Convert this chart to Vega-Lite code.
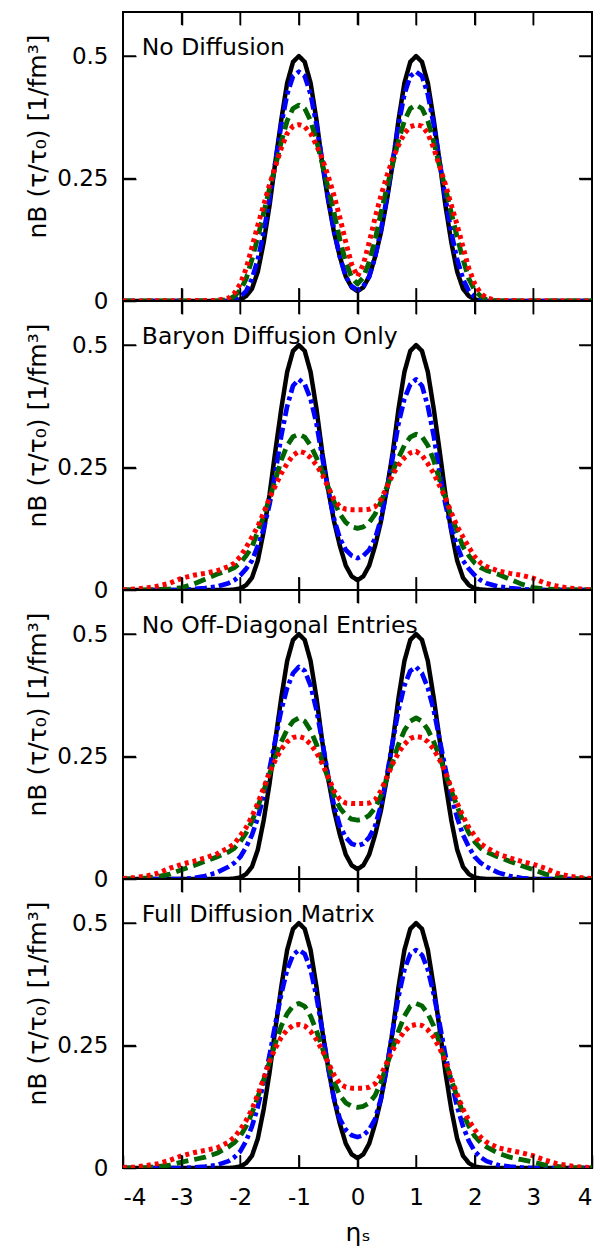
{
  "$schema": "https://vega.github.io/schema/vega-lite/v6.json",
  "padding": {"left": 23, "top": 10, "right": 5, "bottom": 0},
  "background": "white",
  "datasets": {
    "xt": [{"t":-3},{"t":-2},{"t":-1},{"t":0},{"t":1},{"t":2},{"t":3}],
    "yt": [{"v":0.25},{"v":0.5}],
    "curves": [
      {"p":1,"x":-4,"a":0,"b":0,"c":0,"d":0},
      {"p":1,"x":-2.4,"a":0,"b":0,"c":0,"d":0.001},
      {"p":1,"x":-2.2,"a":0,"b":0,"c":0.003,"d":0.006},
      {"p":1,"x":-2.1,"a":0.001,"b":0.002,"c":0.01,"d":0.016},
      {"p":1,"x":-2,"a":0.003,"b":0.008,"c":0.022,"d":0.035},
      {"p":1,"x":-1.9,"a":0.01,"b":0.02,"c":0.045,"d":0.066},
      {"p":1,"x":-1.8,"a":0.025,"b":0.045,"c":0.085,"d":0.11},
      {"p":1,"x":-1.7,"a":0.06,"b":0.085,"c":0.13,"d":0.155},
      {"p":1,"x":-1.6,"a":0.12,"b":0.14,"c":0.18,"d":0.196},
      {"p":1,"x":-1.5,"a":0.195,"b":0.21,"c":0.23,"d":0.238},
      {"p":1,"x":-1.4,"a":0.285,"b":0.285,"c":0.275,"d":0.275},
      {"p":1,"x":-1.3,"a":0.37,"b":0.36,"c":0.325,"d":0.312},
      {"p":1,"x":-1.2,"a":0.445,"b":0.422,"c":0.368,"d":0.342},
      {"p":1,"x":-1.1,"a":0.488,"b":0.459,"c":0.393,"d":0.357},
      {"p":1,"x":-1,"a":0.5,"b":0.468,"c":0.4,"d":0.36},
      {"p":1,"x":-0.9,"a":0.488,"b":0.459,"c":0.393,"d":0.356},
      {"p":1,"x":-0.8,"a":0.445,"b":0.422,"c":0.368,"d":0.342},
      {"p":1,"x":-0.7,"a":0.37,"b":0.36,"c":0.328,"d":0.318},
      {"p":1,"x":-0.6,"a":0.28,"b":0.285,"c":0.28,"d":0.29},
      {"p":1,"x":-0.5,"a":0.205,"b":0.21,"c":0.23,"d":0.255},
      {"p":1,"x":-0.4,"a":0.14,"b":0.145,"c":0.18,"d":0.215},
      {"p":1,"x":-0.3,"a":0.09,"b":0.09,"c":0.125,"d":0.17},
      {"p":1,"x":-0.2,"a":0.05,"b":0.05,"c":0.08,"d":0.12},
      {"p":1,"x":-0.1,"a":0.028,"b":0.03,"c":0.048,"d":0.075},
      {"p":1,"x":0,"a":0.02,"b":0.022,"c":0.035,"d":0.05},
      {"p":1,"x":0.1,"a":0.028,"b":0.03,"c":0.048,"d":0.075},
      {"p":1,"x":0.2,"a":0.05,"b":0.05,"c":0.08,"d":0.12},
      {"p":1,"x":0.3,"a":0.09,"b":0.09,"c":0.125,"d":0.17},
      {"p":1,"x":0.4,"a":0.14,"b":0.145,"c":0.18,"d":0.215},
      {"p":1,"x":0.5,"a":0.205,"b":0.21,"c":0.23,"d":0.255},
      {"p":1,"x":0.6,"a":0.28,"b":0.285,"c":0.28,"d":0.29},
      {"p":1,"x":0.7,"a":0.37,"b":0.36,"c":0.328,"d":0.318},
      {"p":1,"x":0.8,"a":0.445,"b":0.422,"c":0.368,"d":0.342},
      {"p":1,"x":0.9,"a":0.488,"b":0.459,"c":0.393,"d":0.356},
      {"p":1,"x":1,"a":0.5,"b":0.468,"c":0.4,"d":0.36},
      {"p":1,"x":1.1,"a":0.488,"b":0.459,"c":0.393,"d":0.357},
      {"p":1,"x":1.2,"a":0.445,"b":0.422,"c":0.368,"d":0.342},
      {"p":1,"x":1.3,"a":0.37,"b":0.36,"c":0.325,"d":0.312},
      {"p":1,"x":1.4,"a":0.285,"b":0.285,"c":0.275,"d":0.275},
      {"p":1,"x":1.5,"a":0.195,"b":0.21,"c":0.23,"d":0.238},
      {"p":1,"x":1.6,"a":0.12,"b":0.14,"c":0.18,"d":0.196},
      {"p":1,"x":1.7,"a":0.06,"b":0.085,"c":0.13,"d":0.155},
      {"p":1,"x":1.8,"a":0.025,"b":0.045,"c":0.085,"d":0.11},
      {"p":1,"x":1.9,"a":0.01,"b":0.02,"c":0.045,"d":0.066},
      {"p":1,"x":2,"a":0.003,"b":0.008,"c":0.022,"d":0.035},
      {"p":1,"x":2.1,"a":0.001,"b":0.002,"c":0.01,"d":0.016},
      {"p":1,"x":2.2,"a":0,"b":0,"c":0.003,"d":0.006},
      {"p":1,"x":2.4,"a":0,"b":0,"c":0,"d":0.001},
      {"p":1,"x":4,"a":0,"b":0,"c":0,"d":0},

      {"p":2,"x":-4,"a":0,"b":0,"c":0,"d":0},
      {"p":2,"x":-3.8,"a":0,"b":0,"c":0,"d":0.002},
      {"p":2,"x":-3.6,"a":0,"b":0,"c":0,"d":0.004},
      {"p":2,"x":-3.4,"a":0,"b":0,"c":0.001,"d":0.008},
      {"p":2,"x":-3.2,"a":0,"b":0,"c":0.002,"d":0.014},
      {"p":2,"x":-3,"a":0,"b":0,"c":0.005,"d":0.024},
      {"p":2,"x":-2.8,"a":0,"b":0.002,"c":0.012,"d":0.03},
      {"p":2,"x":-2.6,"a":0,"b":0.004,"c":0.022,"d":0.034},
      {"p":2,"x":-2.4,"a":0,"b":0.007,"c":0.032,"d":0.039},
      {"p":2,"x":-2.2,"a":0,"b":0.014,"c":0.04,"d":0.048},
      {"p":2,"x":-2.1,"a":0.001,"b":0.02,"c":0.046,"d":0.055},
      {"p":2,"x":-2,"a":0.003,"b":0.03,"c":0.055,"d":0.068},
      {"p":2,"x":-1.9,"a":0.01,"b":0.043,"c":0.07,"d":0.087},
      {"p":2,"x":-1.8,"a":0.025,"b":0.06,"c":0.088,"d":0.108},
      {"p":2,"x":-1.7,"a":0.06,"b":0.09,"c":0.12,"d":0.13},
      {"p":2,"x":-1.6,"a":0.12,"b":0.125,"c":0.15,"d":0.158},
      {"p":2,"x":-1.5,"a":0.195,"b":0.175,"c":0.188,"d":0.188},
      {"p":2,"x":-1.4,"a":0.285,"b":0.24,"c":0.225,"d":0.213},
      {"p":2,"x":-1.3,"a":0.37,"b":0.315,"c":0.265,"d":0.238},
      {"p":2,"x":-1.2,"a":0.445,"b":0.375,"c":0.295,"d":0.258},
      {"p":2,"x":-1.1,"a":0.488,"b":0.417,"c":0.313,"d":0.275},
      {"p":2,"x":-1,"a":0.5,"b":0.43,"c":0.318,"d":0.283},
      {"p":2,"x":-0.9,"a":0.488,"b":0.42,"c":0.312,"d":0.28},
      {"p":2,"x":-0.8,"a":0.445,"b":0.39,"c":0.295,"d":0.27},
      {"p":2,"x":-0.7,"a":0.37,"b":0.34,"c":0.27,"d":0.255},
      {"p":2,"x":-0.6,"a":0.28,"b":0.27,"c":0.242,"d":0.235},
      {"p":2,"x":-0.5,"a":0.205,"b":0.205,"c":0.21,"d":0.21},
      {"p":2,"x":-0.4,"a":0.14,"b":0.145,"c":0.18,"d":0.185},
      {"p":2,"x":-0.3,"a":0.09,"b":0.105,"c":0.155,"d":0.17},
      {"p":2,"x":-0.2,"a":0.05,"b":0.082,"c":0.138,"d":0.165},
      {"p":2,"x":-0.1,"a":0.028,"b":0.07,"c":0.129,"d":0.164},
      {"p":2,"x":0,"a":0.02,"b":0.065,"c":0.126,"d":0.164},
      {"p":2,"x":0.1,"a":0.028,"b":0.07,"c":0.129,"d":0.164},
      {"p":2,"x":0.2,"a":0.05,"b":0.082,"c":0.138,"d":0.165},
      {"p":2,"x":0.3,"a":0.09,"b":0.105,"c":0.155,"d":0.17},
      {"p":2,"x":0.4,"a":0.14,"b":0.145,"c":0.18,"d":0.185},
      {"p":2,"x":0.5,"a":0.205,"b":0.205,"c":0.21,"d":0.21},
      {"p":2,"x":0.6,"a":0.28,"b":0.27,"c":0.242,"d":0.235},
      {"p":2,"x":0.7,"a":0.37,"b":0.34,"c":0.27,"d":0.255},
      {"p":2,"x":0.8,"a":0.445,"b":0.39,"c":0.295,"d":0.27},
      {"p":2,"x":0.9,"a":0.488,"b":0.42,"c":0.312,"d":0.28},
      {"p":2,"x":1,"a":0.5,"b":0.43,"c":0.318,"d":0.283},
      {"p":2,"x":1.1,"a":0.488,"b":0.417,"c":0.313,"d":0.275},
      {"p":2,"x":1.2,"a":0.445,"b":0.375,"c":0.295,"d":0.258},
      {"p":2,"x":1.3,"a":0.37,"b":0.315,"c":0.265,"d":0.238},
      {"p":2,"x":1.4,"a":0.285,"b":0.24,"c":0.225,"d":0.213},
      {"p":2,"x":1.5,"a":0.195,"b":0.175,"c":0.188,"d":0.188},
      {"p":2,"x":1.6,"a":0.12,"b":0.125,"c":0.15,"d":0.158},
      {"p":2,"x":1.7,"a":0.06,"b":0.09,"c":0.12,"d":0.13},
      {"p":2,"x":1.8,"a":0.025,"b":0.06,"c":0.088,"d":0.108},
      {"p":2,"x":1.9,"a":0.01,"b":0.043,"c":0.07,"d":0.087},
      {"p":2,"x":2,"a":0.003,"b":0.03,"c":0.055,"d":0.068},
      {"p":2,"x":2.1,"a":0.001,"b":0.02,"c":0.046,"d":0.055},
      {"p":2,"x":2.2,"a":0,"b":0.014,"c":0.04,"d":0.048},
      {"p":2,"x":2.4,"a":0,"b":0.007,"c":0.032,"d":0.039},
      {"p":2,"x":2.6,"a":0,"b":0.004,"c":0.022,"d":0.034},
      {"p":2,"x":2.8,"a":0,"b":0.002,"c":0.012,"d":0.03},
      {"p":2,"x":3,"a":0,"b":0,"c":0.005,"d":0.024},
      {"p":2,"x":3.2,"a":0,"b":0,"c":0.002,"d":0.014},
      {"p":2,"x":3.4,"a":0,"b":0,"c":0.001,"d":0.008},
      {"p":2,"x":3.6,"a":0,"b":0,"c":0,"d":0.004},
      {"p":2,"x":3.8,"a":0,"b":0,"c":0,"d":0.002},
      {"p":2,"x":4,"a":0,"b":0,"c":0,"d":0},

      {"p":3,"x":-4,"a":0,"b":0,"c":0,"d":0.001},
      {"p":3,"x":-3.8,"a":0,"b":0,"c":0,"d":0.003},
      {"p":3,"x":-3.6,"a":0,"b":0,"c":0.002,"d":0.006},
      {"p":3,"x":-3.4,"a":0,"b":0,"c":0.005,"d":0.012},
      {"p":3,"x":-3.2,"a":0,"b":0,"c":0.01,"d":0.022},
      {"p":3,"x":-3,"a":0,"b":0,"c":0.019,"d":0.03},
      {"p":3,"x":-2.8,"a":0,"b":0.002,"c":0.027,"d":0.036},
      {"p":3,"x":-2.6,"a":0,"b":0.006,"c":0.036,"d":0.043},
      {"p":3,"x":-2.4,"a":0,"b":0.013,"c":0.045,"d":0.051},
      {"p":3,"x":-2.2,"a":0,"b":0.025,"c":0.055,"d":0.064},
      {"p":3,"x":-2.1,"a":0.001,"b":0.033,"c":0.063,"d":0.072},
      {"p":3,"x":-2,"a":0.003,"b":0.045,"c":0.076,"d":0.088},
      {"p":3,"x":-1.9,"a":0.01,"b":0.065,"c":0.094,"d":0.105},
      {"p":3,"x":-1.8,"a":0.025,"b":0.09,"c":0.118,"d":0.128},
      {"p":3,"x":-1.7,"a":0.06,"b":0.125,"c":0.148,"d":0.155},
      {"p":3,"x":-1.6,"a":0.12,"b":0.17,"c":0.18,"d":0.186},
      {"p":3,"x":-1.5,"a":0.195,"b":0.225,"c":0.215,"d":0.218},
      {"p":3,"x":-1.4,"a":0.285,"b":0.285,"c":0.25,"d":0.243},
      {"p":3,"x":-1.3,"a":0.37,"b":0.345,"c":0.28,"d":0.265},
      {"p":3,"x":-1.2,"a":0.445,"b":0.39,"c":0.305,"d":0.28},
      {"p":3,"x":-1.1,"a":0.488,"b":0.42,"c":0.322,"d":0.289},
      {"p":3,"x":-1,"a":0.5,"b":0.433,"c":0.329,"d":0.291},
      {"p":3,"x":-0.9,"a":0.488,"b":0.425,"c":0.322,"d":0.287},
      {"p":3,"x":-0.8,"a":0.445,"b":0.395,"c":0.303,"d":0.275},
      {"p":3,"x":-0.7,"a":0.37,"b":0.345,"c":0.275,"d":0.258},
      {"p":3,"x":-0.6,"a":0.28,"b":0.28,"c":0.24,"d":0.235},
      {"p":3,"x":-0.5,"a":0.205,"b":0.21,"c":0.205,"d":0.208},
      {"p":3,"x":-0.4,"a":0.14,"b":0.15,"c":0.17,"d":0.18},
      {"p":3,"x":-0.3,"a":0.09,"b":0.108,"c":0.145,"d":0.162},
      {"p":3,"x":-0.2,"a":0.05,"b":0.085,"c":0.13,"d":0.155},
      {"p":3,"x":-0.1,"a":0.028,"b":0.072,"c":0.122,"d":0.154},
      {"p":3,"x":0,"a":0.02,"b":0.068,"c":0.12,"d":0.154},
      {"p":3,"x":0.1,"a":0.028,"b":0.072,"c":0.122,"d":0.154},
      {"p":3,"x":0.2,"a":0.05,"b":0.085,"c":0.13,"d":0.155},
      {"p":3,"x":0.3,"a":0.09,"b":0.108,"c":0.145,"d":0.162},
      {"p":3,"x":0.4,"a":0.14,"b":0.15,"c":0.17,"d":0.18},
      {"p":3,"x":0.5,"a":0.205,"b":0.21,"c":0.205,"d":0.208},
      {"p":3,"x":0.6,"a":0.28,"b":0.28,"c":0.24,"d":0.235},
      {"p":3,"x":0.7,"a":0.37,"b":0.345,"c":0.275,"d":0.258},
      {"p":3,"x":0.8,"a":0.445,"b":0.395,"c":0.303,"d":0.275},
      {"p":3,"x":0.9,"a":0.488,"b":0.425,"c":0.322,"d":0.287},
      {"p":3,"x":1,"a":0.5,"b":0.433,"c":0.329,"d":0.291},
      {"p":3,"x":1.1,"a":0.488,"b":0.42,"c":0.322,"d":0.289},
      {"p":3,"x":1.2,"a":0.445,"b":0.39,"c":0.305,"d":0.28},
      {"p":3,"x":1.3,"a":0.37,"b":0.345,"c":0.28,"d":0.265},
      {"p":3,"x":1.4,"a":0.285,"b":0.285,"c":0.25,"d":0.243},
      {"p":3,"x":1.5,"a":0.195,"b":0.225,"c":0.215,"d":0.218},
      {"p":3,"x":1.6,"a":0.12,"b":0.17,"c":0.18,"d":0.186},
      {"p":3,"x":1.7,"a":0.06,"b":0.125,"c":0.148,"d":0.155},
      {"p":3,"x":1.8,"a":0.025,"b":0.09,"c":0.118,"d":0.128},
      {"p":3,"x":1.9,"a":0.01,"b":0.065,"c":0.094,"d":0.105},
      {"p":3,"x":2,"a":0.003,"b":0.045,"c":0.076,"d":0.088},
      {"p":3,"x":2.1,"a":0.001,"b":0.033,"c":0.063,"d":0.072},
      {"p":3,"x":2.2,"a":0,"b":0.025,"c":0.055,"d":0.064},
      {"p":3,"x":2.4,"a":0,"b":0.013,"c":0.045,"d":0.051},
      {"p":3,"x":2.6,"a":0,"b":0.006,"c":0.036,"d":0.043},
      {"p":3,"x":2.8,"a":0,"b":0.002,"c":0.027,"d":0.036},
      {"p":3,"x":3,"a":0,"b":0,"c":0.019,"d":0.03},
      {"p":3,"x":3.2,"a":0,"b":0,"c":0.01,"d":0.022},
      {"p":3,"x":3.4,"a":0,"b":0,"c":0.005,"d":0.012},
      {"p":3,"x":3.6,"a":0,"b":0,"c":0.002,"d":0.006},
      {"p":3,"x":3.8,"a":0,"b":0,"c":0,"d":0.003},
      {"p":3,"x":4,"a":0,"b":0,"c":0,"d":0.001},

      {"p":4,"x":-4,"a":0,"b":0,"c":0,"d":0.001},
      {"p":4,"x":-3.8,"a":0,"b":0,"c":0,"d":0.002},
      {"p":4,"x":-3.6,"a":0,"b":0,"c":0.001,"d":0.005},
      {"p":4,"x":-3.4,"a":0,"b":0,"c":0.003,"d":0.009},
      {"p":4,"x":-3.2,"a":0,"b":0,"c":0.006,"d":0.016},
      {"p":4,"x":-3,"a":0,"b":0,"c":0.012,"d":0.025},
      {"p":4,"x":-2.8,"a":0,"b":0.001,"c":0.017,"d":0.031},
      {"p":4,"x":-2.6,"a":0,"b":0.003,"c":0.022,"d":0.036},
      {"p":4,"x":-2.4,"a":0,"b":0.006,"c":0.03,"d":0.041},
      {"p":4,"x":-2.2,"a":0,"b":0.014,"c":0.043,"d":0.053},
      {"p":4,"x":-2.1,"a":0.001,"b":0.022,"c":0.052,"d":0.063},
      {"p":4,"x":-2,"a":0.003,"b":0.034,"c":0.065,"d":0.078},
      {"p":4,"x":-1.9,"a":0.01,"b":0.055,"c":0.085,"d":0.097},
      {"p":4,"x":-1.8,"a":0.025,"b":0.085,"c":0.112,"d":0.12},
      {"p":4,"x":-1.7,"a":0.06,"b":0.125,"c":0.145,"d":0.15},
      {"p":4,"x":-1.6,"a":0.12,"b":0.175,"c":0.18,"d":0.183},
      {"p":4,"x":-1.5,"a":0.195,"b":0.23,"c":0.217,"d":0.218},
      {"p":4,"x":-1.4,"a":0.285,"b":0.295,"c":0.255,"d":0.245},
      {"p":4,"x":-1.3,"a":0.37,"b":0.355,"c":0.29,"d":0.267},
      {"p":4,"x":-1.2,"a":0.445,"b":0.405,"c":0.315,"d":0.282},
      {"p":4,"x":-1.1,"a":0.488,"b":0.435,"c":0.331,"d":0.291},
      {"p":4,"x":-1,"a":0.5,"b":0.445,"c":0.336,"d":0.293},
      {"p":4,"x":-0.9,"a":0.488,"b":0.437,"c":0.33,"d":0.29},
      {"p":4,"x":-0.8,"a":0.445,"b":0.405,"c":0.31,"d":0.279},
      {"p":4,"x":-0.7,"a":0.37,"b":0.35,"c":0.28,"d":0.262},
      {"p":4,"x":-0.6,"a":0.28,"b":0.28,"c":0.245,"d":0.24},
      {"p":4,"x":-0.5,"a":0.205,"b":0.205,"c":0.21,"d":0.215},
      {"p":4,"x":-0.4,"a":0.14,"b":0.142,"c":0.175,"d":0.19},
      {"p":4,"x":-0.3,"a":0.09,"b":0.1,"c":0.148,"d":0.172},
      {"p":4,"x":-0.2,"a":0.05,"b":0.078,"c":0.133,"d":0.165},
      {"p":4,"x":-0.1,"a":0.028,"b":0.067,"c":0.126,"d":0.163},
      {"p":4,"x":0,"a":0.02,"b":0.063,"c":0.124,"d":0.163},
      {"p":4,"x":0.1,"a":0.028,"b":0.067,"c":0.126,"d":0.163},
      {"p":4,"x":0.2,"a":0.05,"b":0.078,"c":0.133,"d":0.165},
      {"p":4,"x":0.3,"a":0.09,"b":0.1,"c":0.148,"d":0.172},
      {"p":4,"x":0.4,"a":0.14,"b":0.142,"c":0.175,"d":0.19},
      {"p":4,"x":0.5,"a":0.205,"b":0.205,"c":0.21,"d":0.215},
      {"p":4,"x":0.6,"a":0.28,"b":0.28,"c":0.245,"d":0.24},
      {"p":4,"x":0.7,"a":0.37,"b":0.35,"c":0.28,"d":0.262},
      {"p":4,"x":0.8,"a":0.445,"b":0.405,"c":0.31,"d":0.279},
      {"p":4,"x":0.9,"a":0.488,"b":0.437,"c":0.33,"d":0.29},
      {"p":4,"x":1,"a":0.5,"b":0.445,"c":0.336,"d":0.293},
      {"p":4,"x":1.1,"a":0.488,"b":0.435,"c":0.331,"d":0.291},
      {"p":4,"x":1.2,"a":0.445,"b":0.405,"c":0.315,"d":0.282},
      {"p":4,"x":1.3,"a":0.37,"b":0.355,"c":0.29,"d":0.267},
      {"p":4,"x":1.4,"a":0.285,"b":0.295,"c":0.255,"d":0.245},
      {"p":4,"x":1.5,"a":0.195,"b":0.23,"c":0.217,"d":0.218},
      {"p":4,"x":1.6,"a":0.12,"b":0.175,"c":0.18,"d":0.183},
      {"p":4,"x":1.7,"a":0.06,"b":0.125,"c":0.145,"d":0.15},
      {"p":4,"x":1.8,"a":0.025,"b":0.085,"c":0.112,"d":0.12},
      {"p":4,"x":1.9,"a":0.01,"b":0.055,"c":0.085,"d":0.097},
      {"p":4,"x":2,"a":0.003,"b":0.034,"c":0.065,"d":0.078},
      {"p":4,"x":2.1,"a":0.001,"b":0.022,"c":0.052,"d":0.063},
      {"p":4,"x":2.2,"a":0,"b":0.014,"c":0.043,"d":0.053},
      {"p":4,"x":2.4,"a":0,"b":0.006,"c":0.03,"d":0.041},
      {"p":4,"x":2.6,"a":0,"b":0.003,"c":0.022,"d":0.036},
      {"p":4,"x":2.8,"a":0,"b":0.001,"c":0.017,"d":0.031},
      {"p":4,"x":3,"a":0,"b":0,"c":0.012,"d":0.025},
      {"p":4,"x":3.2,"a":0,"b":0,"c":0.006,"d":0.016},
      {"p":4,"x":3.4,"a":0,"b":0,"c":0.003,"d":0.009},
      {"p":4,"x":3.6,"a":0,"b":0,"c":0.001,"d":0.005},
      {"p":4,"x":3.8,"a":0,"b":0,"c":0,"d":0.002},
      {"p":4,"x":4,"a":0,"b":0,"c":0,"d":0.001}
    ]
  },
  "spacing": 0,
  "bounds": "flush",
  "vconcat": [
    {
      "width": 469, "height": 289,
      "resolve": {"axis": {"x": "independent", "y": "independent"}},
      "layer": [
        {
          "data": {"name": "curves"},
          "transform": [{"filter": "datum.p == 1"}, {"fold": ["a", "b", "c", "d"], "as": ["key", "val"]}],
          "mark": {"type": "line", "strokeCap": "butt", "strokeJoin": "round", "clip": true},
          "encoding": {
            "x": {"field": "x", "type": "quantitative", "scale": {"domain": [-4, 4], "nice": false, "zero": false},
                  "axis": {"orient": "bottom", "values": [-3,-2,-1,0,1,2,3], "labels": false, "title": null}},
            "y": {"field": "val", "type": "quantitative", "scale": {"domain": [0, 0.59], "nice": false},
                  "axis": {"orient": "left", "values": [0, 0.25, 0.5], "labelExpr": "'' + datum.value", "title": "nB (τ/τ₀) [1/fm³]"}},
            "color": {"field": "key", "type": "nominal", "scale": {"domain": ["a","b","c","d"], "range": ["#000000","#0000ff","#006400","#ff0000"]}, "legend": null},
            "strokeDash": {"field": "key", "type": "nominal", "scale": {"domain": ["a","b","c","d"], "range": [[1,0],[12,4,4,4],[12,6],[4,4]]}, "legend": null},
            "strokeWidth": {"field": "key", "type": "nominal", "scale": {"domain": ["a","b","c","d"], "range": [4.5,5,5,5]}, "legend": null}
          }
        },
        {
          "data": {"values": [{"t": "No Diffusion"}]},
          "mark": {"type": "text", "align": "left", "baseline": "alphabetic", "fontSize": 23.5, "font": "DejaVu Sans", "color": "black"},
          "encoding": {
            "x": {"datum": -3.68, "type": "quantitative", "axis": {"orient": "top", "values": [-3,-2,-1,0,1,2,3], "labels": false, "title": null}},
            "y": {"datum": 0.503, "type": "quantitative", "axis": {"orient": "right", "values": [0.25, 0.5], "labels": false, "title": null}},
            "text": {"field": "t"}
          }
        },
        {"data": {"name": "xt"}, "mark": {"type": "rule", "color": "black", "strokeWidth": 1.5},
         "encoding": {"x": {"field": "t", "type": "quantitative", "axis": null},
                      "y": {"datum": 0, "type": "quantitative", "axis": null}, "y2": {"datum": 0.0265}}},
        {"data": {"name": "xt"}, "mark": {"type": "rule", "color": "black", "strokeWidth": 1.5},
         "encoding": {"x": {"field": "t", "type": "quantitative", "axis": null},
                      "y": {"datum": 0.5635, "type": "quantitative", "axis": null}, "y2": {"datum": 0.59}}},
        {"data": {"name": "yt"}, "mark": {"type": "rule", "color": "black", "strokeWidth": 1.5},
         "encoding": {"y": {"field": "v", "type": "quantitative", "axis": null},
                      "x": {"datum": -4, "type": "quantitative", "axis": null}, "x2": {"datum": -3.778}}},
        {"data": {"name": "yt"}, "mark": {"type": "rule", "color": "black", "strokeWidth": 1.5},
         "encoding": {"y": {"field": "v", "type": "quantitative", "axis": null},
                      "x": {"datum": 3.778, "type": "quantitative", "axis": null}, "x2": {"datum": 4}}}
      ]
    },
    {
      "width": 469, "height": 289,
      "resolve": {"axis": {"x": "independent", "y": "independent"}},
      "layer": [
        {
          "data": {"name": "curves"},
          "transform": [{"filter": "datum.p == 2"}, {"fold": ["a", "b", "c", "d"], "as": ["key", "val"]}],
          "mark": {"type": "line", "strokeCap": "butt", "strokeJoin": "round", "clip": true},
          "encoding": {
            "x": {"field": "x", "type": "quantitative", "scale": {"domain": [-4, 4], "nice": false, "zero": false},
                  "axis": {"orient": "bottom", "values": [-3,-2,-1,0,1,2,3], "labels": false, "title": null}},
            "y": {"field": "val", "type": "quantitative", "scale": {"domain": [0, 0.59], "nice": false},
                  "axis": {"orient": "left", "values": [0, 0.25, 0.5], "labelExpr": "'' + datum.value", "title": "nB (τ/τ₀) [1/fm³]"}},
            "color": {"field": "key", "type": "nominal", "scale": {"domain": ["a","b","c","d"], "range": ["#000000","#0000ff","#006400","#ff0000"]}, "legend": null},
            "strokeDash": {"field": "key", "type": "nominal", "scale": {"domain": ["a","b","c","d"], "range": [[1,0],[12,4,4,4],[12,6],[4,4]]}, "legend": null},
            "strokeWidth": {"field": "key", "type": "nominal", "scale": {"domain": ["a","b","c","d"], "range": [4.5,5,5,5]}, "legend": null}
          }
        },
        {
          "data": {"values": [{"t": "Baryon Diffusion Only"}]},
          "mark": {"type": "text", "align": "left", "baseline": "alphabetic", "fontSize": 23.5, "font": "DejaVu Sans", "color": "black"},
          "encoding": {
            "x": {"datum": -3.68, "type": "quantitative", "axis": {"orient": "top", "values": [-3,-2,-1,0,1,2,3], "labels": false, "title": null}},
            "y": {"datum": 0.503, "type": "quantitative", "axis": {"orient": "right", "values": [0.25, 0.5], "labels": false, "title": null}},
            "text": {"field": "t"}
          }
        },
        {"data": {"name": "xt"}, "mark": {"type": "rule", "color": "black", "strokeWidth": 1.5},
         "encoding": {"x": {"field": "t", "type": "quantitative", "axis": null},
                      "y": {"datum": 0, "type": "quantitative", "axis": null}, "y2": {"datum": 0.0265}}},
        {"data": {"name": "xt"}, "mark": {"type": "rule", "color": "black", "strokeWidth": 1.5},
         "encoding": {"x": {"field": "t", "type": "quantitative", "axis": null},
                      "y": {"datum": 0.5635, "type": "quantitative", "axis": null}, "y2": {"datum": 0.59}}},
        {"data": {"name": "yt"}, "mark": {"type": "rule", "color": "black", "strokeWidth": 1.5},
         "encoding": {"y": {"field": "v", "type": "quantitative", "axis": null},
                      "x": {"datum": -4, "type": "quantitative", "axis": null}, "x2": {"datum": -3.778}}},
        {"data": {"name": "yt"}, "mark": {"type": "rule", "color": "black", "strokeWidth": 1.5},
         "encoding": {"y": {"field": "v", "type": "quantitative", "axis": null},
                      "x": {"datum": 3.778, "type": "quantitative", "axis": null}, "x2": {"datum": 4}}}
      ]
    },
    {
      "width": 469, "height": 289,
      "resolve": {"axis": {"x": "independent", "y": "independent"}},
      "layer": [
        {
          "data": {"name": "curves"},
          "transform": [{"filter": "datum.p == 3"}, {"fold": ["a", "b", "c", "d"], "as": ["key", "val"]}],
          "mark": {"type": "line", "strokeCap": "butt", "strokeJoin": "round", "clip": true},
          "encoding": {
            "x": {"field": "x", "type": "quantitative", "scale": {"domain": [-4, 4], "nice": false, "zero": false},
                  "axis": {"orient": "bottom", "values": [-3,-2,-1,0,1,2,3], "labels": false, "title": null}},
            "y": {"field": "val", "type": "quantitative", "scale": {"domain": [0, 0.59], "nice": false},
                  "axis": {"orient": "left", "values": [0, 0.25, 0.5], "labelExpr": "'' + datum.value", "title": "nB (τ/τ₀) [1/fm³]"}},
            "color": {"field": "key", "type": "nominal", "scale": {"domain": ["a","b","c","d"], "range": ["#000000","#0000ff","#006400","#ff0000"]}, "legend": null},
            "strokeDash": {"field": "key", "type": "nominal", "scale": {"domain": ["a","b","c","d"], "range": [[1,0],[12,4,4,4],[12,6],[4,4]]}, "legend": null},
            "strokeWidth": {"field": "key", "type": "nominal", "scale": {"domain": ["a","b","c","d"], "range": [4.5,5,5,5]}, "legend": null}
          }
        },
        {
          "data": {"values": [{"t": "No Off-Diagonal Entries"}]},
          "mark": {"type": "text", "align": "left", "baseline": "alphabetic", "fontSize": 23.5, "font": "DejaVu Sans", "color": "black"},
          "encoding": {
            "x": {"datum": -3.68, "type": "quantitative", "axis": {"orient": "top", "values": [-3,-2,-1,0,1,2,3], "labels": false, "title": null}},
            "y": {"datum": 0.503, "type": "quantitative", "axis": {"orient": "right", "values": [0.25, 0.5], "labels": false, "title": null}},
            "text": {"field": "t"}
          }
        },
        {"data": {"name": "xt"}, "mark": {"type": "rule", "color": "black", "strokeWidth": 1.5},
         "encoding": {"x": {"field": "t", "type": "quantitative", "axis": null},
                      "y": {"datum": 0, "type": "quantitative", "axis": null}, "y2": {"datum": 0.0265}}},
        {"data": {"name": "xt"}, "mark": {"type": "rule", "color": "black", "strokeWidth": 1.5},
         "encoding": {"x": {"field": "t", "type": "quantitative", "axis": null},
                      "y": {"datum": 0.5635, "type": "quantitative", "axis": null}, "y2": {"datum": 0.59}}},
        {"data": {"name": "yt"}, "mark": {"type": "rule", "color": "black", "strokeWidth": 1.5},
         "encoding": {"y": {"field": "v", "type": "quantitative", "axis": null},
                      "x": {"datum": -4, "type": "quantitative", "axis": null}, "x2": {"datum": -3.778}}},
        {"data": {"name": "yt"}, "mark": {"type": "rule", "color": "black", "strokeWidth": 1.5},
         "encoding": {"y": {"field": "v", "type": "quantitative", "axis": null},
                      "x": {"datum": 3.778, "type": "quantitative", "axis": null}, "x2": {"datum": 4}}}
      ]
    },
    {
      "width": 469, "height": 289,
      "resolve": {"axis": {"x": "independent", "y": "independent"}},
      "layer": [
        {
          "data": {"name": "curves"},
          "transform": [{"filter": "datum.p == 4"}, {"fold": ["a", "b", "c", "d"], "as": ["key", "val"]}],
          "mark": {"type": "line", "strokeCap": "butt", "strokeJoin": "round", "clip": true},
          "encoding": {
            "x": {"field": "x", "type": "quantitative", "scale": {"domain": [-4, 4], "nice": false, "zero": false},
                  "axis": {"orient": "bottom", "values": [-4,-3,-2,-1,0,1,2,3,4], "labelExpr": "'' + datum.value", "title": "ηₛ", "titleFontSize": 25, "titleBaseline": "alphabetic", "titleY": 72}},
            "y": {"field": "val", "type": "quantitative", "scale": {"domain": [0, 0.59], "nice": false},
                  "axis": {"orient": "left", "values": [0, 0.25, 0.5], "labelExpr": "'' + datum.value", "title": "nB (τ/τ₀) [1/fm³]"}},
            "color": {"field": "key", "type": "nominal", "scale": {"domain": ["a","b","c","d"], "range": ["#000000","#0000ff","#006400","#ff0000"]}, "legend": null},
            "strokeDash": {"field": "key", "type": "nominal", "scale": {"domain": ["a","b","c","d"], "range": [[1,0],[12,4,4,4],[12,6],[4,4]]}, "legend": null},
            "strokeWidth": {"field": "key", "type": "nominal", "scale": {"domain": ["a","b","c","d"], "range": [4.5,5,5,5]}, "legend": null}
          }
        },
        {
          "data": {"values": [{"t": "Full Diffusion Matrix"}]},
          "mark": {"type": "text", "align": "left", "baseline": "alphabetic", "fontSize": 23.5, "font": "DejaVu Sans", "color": "black"},
          "encoding": {
            "x": {"datum": -3.68, "type": "quantitative", "axis": {"orient": "top", "values": [-3,-2,-1,0,1,2,3], "labels": false, "title": null}},
            "y": {"datum": 0.503, "type": "quantitative", "axis": {"orient": "right", "values": [0.25, 0.5], "labels": false, "title": null}},
            "text": {"field": "t"}
          }
        },
        {"data": {"name": "xt"}, "mark": {"type": "rule", "color": "black", "strokeWidth": 1.5},
         "encoding": {"x": {"field": "t", "type": "quantitative", "axis": null},
                      "y": {"datum": 0, "type": "quantitative", "axis": null}, "y2": {"datum": 0.0265}}},
        {"data": {"name": "xt"}, "mark": {"type": "rule", "color": "black", "strokeWidth": 1.5},
         "encoding": {"x": {"field": "t", "type": "quantitative", "axis": null},
                      "y": {"datum": 0.5635, "type": "quantitative", "axis": null}, "y2": {"datum": 0.59}}},
        {"data": {"name": "yt"}, "mark": {"type": "rule", "color": "black", "strokeWidth": 1.5},
         "encoding": {"y": {"field": "v", "type": "quantitative", "axis": null},
                      "x": {"datum": -4, "type": "quantitative", "axis": null}, "x2": {"datum": -3.778}}},
        {"data": {"name": "yt"}, "mark": {"type": "rule", "color": "black", "strokeWidth": 1.5},
         "encoding": {"y": {"field": "v", "type": "quantitative", "axis": null},
                      "x": {"datum": 3.778, "type": "quantitative", "axis": null}, "x2": {"datum": 4}}}
      ]
    }
  ],
  "config": {
    "font": "DejaVu Sans",
    "view": {"stroke": "black", "strokeWidth": 2},
    "axis": {
      "grid": false, "domain": false, "ticks": true, "zindex": 2,
      "tickSize": -13, "tickWidth": 1.5, "tickColor": "#000000", "tickOpacity": 1,
      "labelFont": "DejaVu Sans", "labelFontSize": 23, "labelColor": "black",
      "titleFont": "DejaVu Sans", "titleFontSize": 25, "titleFontWeight": "normal", "titleColor": "black"
    },
    "axisLeft": {"labelPadding": 28, "titleAlign": "center", "titleBaseline": "alphabetic", "titleX": -78, "titleY": 124, "titleAngle": -90},
    "axisBottom": {"labelPadding": 31}
  }
}
